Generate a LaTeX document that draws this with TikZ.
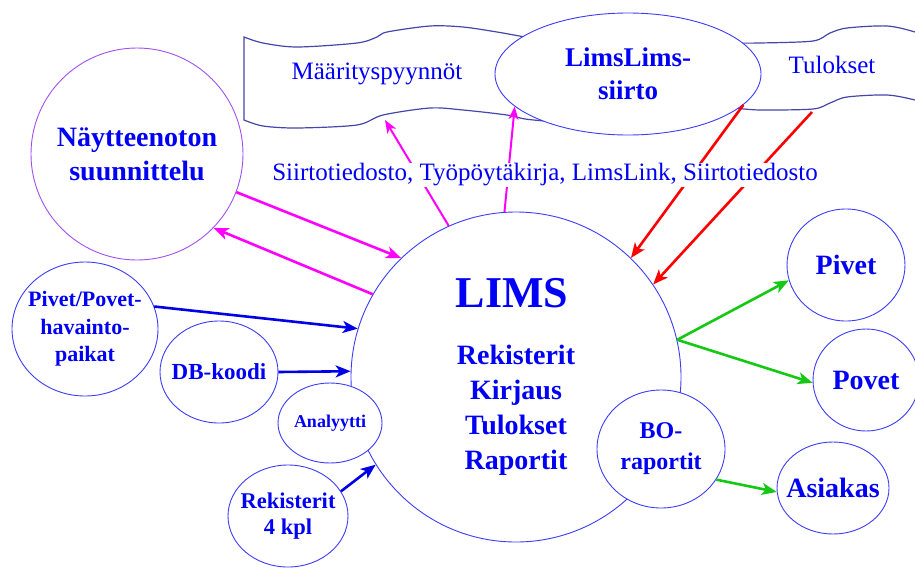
\documentclass[tikz,border=0pt]{standalone}
\usepackage{fontspec}
\setmainfont{Liberation Serif}
\usepackage{xcolor}
\usetikzlibrary{shapes.geometric,arrows.meta,positioning}

\definecolor{txtblue}{RGB}{0,0,245}
\definecolor{rimblue}{RGB}{60,60,250}
\definecolor{tapeblue}{RGB}{70,70,170}
\definecolor{planviolet}{RGB}{160,80,240}
\definecolor{flowmag}{RGB}{255,0,255}
\definecolor{flowred}{RGB}{255,0,0}
\definecolor{flowgreen}{RGB}{20,200,20}
\definecolor{flowblue}{RGB}{0,0,230}

\tikzset{
  blob/.style={ellipse, draw=rimblue, fill=white, line width=0.9pt, inner sep=-30pt,
    text=txtblue, font=\bfseries, align=center},
  lbl/.style={text=txtblue, align=center, inner sep=1pt},
  tapeline/.style={draw=tapeblue, fill=white, line width=1.2pt},
  flow/.style={-{Stealth[length=15pt,width=12pt,inset=4pt]}, line width=2.6pt},
  thinflow/.style={-{Stealth[length=13pt,width=10pt,inset=3.5pt]}, line width=2pt},
}

\begin{document}
\begin{tikzpicture}[x=1pt,y=-1pt]
  \useasboundingbox (0,0) rectangle (915,568);

  \path[tapeline] plot[smooth] coordinates {(244,37) (263,43) (297,47) (357,43) (377,37) (387,32) (430,26) (463,27) (497,32) (525,37) (555,42)}
    -- plot[smooth] coordinates {(555,122) (525,119) (507,115) (463,110) (430,108) (383,115) (357,125) (297,128) (263,126) (244,120)} -- cycle;
  \path[tapeline] plot[smooth] coordinates {(735,43) (760,43) (813,41) (830,33) (847,28) (887,26) (915,32) (935,40)}
    -- plot[smooth] coordinates {(935,106) (915,100) (887,95) (847,97) (830,103) (813,109) (760,110) (735,108)} -- cycle;
  \node[lbl, font=\fontsize{25}{30}\selectfont] (spec) at (377,74) {Määrityspyynnöt};
  \node[lbl, font=\fontsize{25}{30}\selectfont] (results) at (832,65) {Tulokset};
  \coordinate (specend) at (385,120);
  \coordinate (resstart) at (812,112);

  \node[blob, minimum width=266, minimum height=122, font=\bfseries\fontsize{27}{33}\selectfont] (siirto) at (628,74) {LimsLims-\\siirto};

  \node[blob, minimum size=330] (lims) at (516,377) {};
  \node[lbl, font=\bfseries\fontsize{44}{50}\selectfont] (limstitle) at (512,293) {LIMS};
  \node[lbl, font=\bfseries\fontsize{28}{35}\selectfont] (limsparts) at (516,410) {Rekisterit\\Kirjaus\\Tulokset\\Raportit};

  \node[blob, minimum width=104, minimum height=80, font=\bfseries\fontsize{18}{22}\selectfont] (analyst) at (330,423) {Analyytti};
  \node[blob, minimum width=128, minimum height=118, font=\bfseries\fontsize{24}{31}\selectfont] (bo) at (661,449) {BO-\\raportit};

  \node[blob, draw=planviolet, minimum size=212, font=\bfseries\fontsize{28}{34}\selectfont] (plan) at (137,154) {Näytteenoton\\suunnittelu};
  \node[blob, minimum width=146, minimum height=134, font=\bfseries\fontsize{22}{27.5}\selectfont] (sites) at (85,329) {Pivet/Povet-\\havainto-\\paikat};
  \node[blob, minimum width=118, minimum height=102, font=\bfseries\fontsize{23}{28}\selectfont] (db) at (219,372) {DB-koodi};
  \node[blob, minimum width=120, minimum height=102, font=\bfseries\fontsize{22.5}{26}\selectfont] (reg) at (288,516) {Rekisterit\\4 kpl};

  \node[blob, minimum width=118, minimum height=112, font=\bfseries\fontsize{28}{34}\selectfont] (pivet) at (846,265) {Pivet};
  \node[blob, minimum width=106, minimum height=102, font=\bfseries\fontsize{28}{34}\selectfont] (povet) at (866,380) {Povet};
  \node[blob, minimum width=112, minimum height=92, font=\bfseries\fontsize{28}{34}\selectfont] (client) at (833,488) {Asiakas};

  \draw[flow, flowmag] (plan.-21.5) -- (lims.134);
  \draw[flow, flowmag] (lims.150) -- (plan.-44.6);
  \draw[thinflow, flowmag] (lims.114.5) -- (specend);
  \draw[thinflow, flowmag] (lims.94.6) -- (siirto.196);

  \draw[flow, flowred] (siirto.-15) -- (lims.46);
  \draw[flow, flowred] (resstart) -- (lims.34);

  \draw[flow, flowgreen] (lims.13.6) -- (pivet.195);
  \draw[flow, flowgreen] (lims.13.6) -- (povet.183);
  \draw[flow, flowgreen] (bo.-29) -- (client.184);

  \draw[flow, flowblue] (sites.18) -- (lims.163.4);
  \draw[flow, flowblue] (db.east) -- (lims.178.6);
  \draw[flow, flowblue] (reg.25) -- (lims.212);

  \node[lbl, fill=white, font=\fontsize{25}{30}\selectfont] (files) at (545,175) {Siirtotiedosto, Työpöytäkirja, LimsLink, Siirtotiedosto};
\end{tikzpicture}
\end{document}
